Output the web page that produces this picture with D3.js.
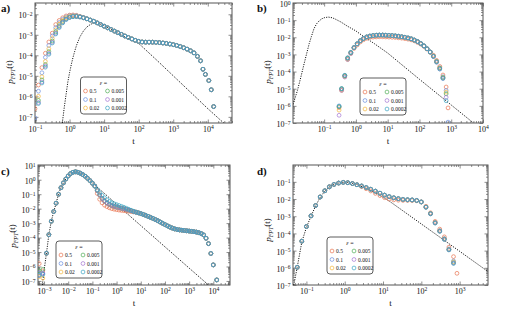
<!DOCTYPE html>
<html lang="en">
<head>
<meta charset="UTF-8">
<title>First passage time distributions</title>
<script src="https://cdn.jsdelivr.net/npm/d3@7"></script>
<style>
  body { margin: 0; background: #fff; }
  svg text { font-family: "Liberation Serif", "DejaVu Serif", serif; fill: #111; }
</style>
</head>
<body>
<div id="chart"></div>
<script>
// legend entries, one per epsilon value
const epsLabels = ["0.5", "0.1", "0.02", "0.005", "0.001", "0.0002"];
const epsColors = ["#e8734f", "#6b8fdf", "#f2b63c", "#4fae56", "#a374d2", "#3aa3c2"];

// all values below are log10(t) and log10(p)

// ---- panel a ----
const aT = [-1.0, -0.9, -0.8, -0.7, -0.6, -0.5, -0.4, -0.3, -0.2, -0.1, 0.0, 0.1, 0.2, 0.3, 0.4,
  0.5, 0.6, 0.7, 0.8, 0.9, 1.0, 1.1, 1.2, 1.3, 1.4, 1.5, 1.6, 1.7, 1.8, 1.9, 2.0, 2.1, 2.2, 2.3, 2.4,
  2.5, 2.6, 2.7, 2.8, 2.9, 3.0, 3.1, 3.2, 3.3, 3.4, 3.5, 3.6, 3.7, 3.79, 3.86, 3.93, 4.03, 4.10, 4.17];
const aRise05 = [-6.6, -5.45, -4.6, -3.9, -3.35, -2.92, -2.5, -2.3, -2.17, -2.08, -2.04, -2.03, -2.05, -2.1, -2.16];
const aRise01 = [-7.05, -5.75, -4.85, -4.1, -3.52, -3.05, -2.65, -2.4, -2.24, -2.13, -2.07, -2.06, -2.07, -2.11, -2.16];
const aRise002 = [null, -6.0, -5.05, -4.3, -3.68, -3.18, -2.76, -2.48, -2.3, -2.17, -2.1, -2.08, -2.09, -2.12, -2.17];
const aRise0005 = [null, -6.2, -5.2, -4.45, -3.82, -3.3, -2.86, -2.56, -2.36, -2.22, -2.14, -2.1, -2.1, -2.13, -2.17];
const aRise0001 = [null, -6.3, -5.3, -4.52, -3.9, -3.36, -2.92, -2.61, -2.4, -2.24, -2.15, -2.11, -2.11, -2.13, -2.17];
const aRise00002 = [null, -6.35, -5.35, -4.58, -3.95, -3.4, -2.96, -2.65, -2.42, -2.26, -2.16, -2.12, -2.11, -2.13, -2.17];
const aTail = [-2.22, -2.28, -2.34, -2.42, -2.5, -2.58, -2.66, -2.74, -2.82, -2.9, -2.98, -3.06, -3.13, -3.2,
  -3.27, -3.32, -3.35, -3.36, -3.36, -3.36, -3.37, -3.38, -3.4, -3.42, -3.45, -3.48, -3.52, -3.57, -3.63,
  -3.7, -3.78, -3.88, -4.05, -4.27, -4.68, -4.93, -5.23, -5.68, -6.5];
const aCurveT = [-0.21, -0.15, -0.1, -0.05, 0.0, 0.05, 0.1, 0.15, 0.2, 0.3, 0.4, 0.5, 0.6, 0.7, 0.8, 1.0,
  1.2, 1.4, 1.6, 1.8, 2.0, 2.5, 3.0, 3.5, 4.0, 4.46];
const aCurveP = [-7.3, -6.5, -5.9, -5.3, -4.85, -4.45, -4.1, -3.8, -3.52, -3.1, -2.82, -2.62, -2.5, -2.42,
  -2.42, -2.56, -2.74, -2.92, -3.1, -3.28, -3.42, -4.2, -5.0, -5.8, -6.6, -7.3];

// ---- panel b ----
const bT = [-0.53, -0.45, -0.35, -0.26, -0.16, -0.06, 0.04, 0.14, 0.24, 0.34, 0.44, 0.54, 0.64, 0.74,
  0.84, 0.94, 1.04, 1.14, 1.24, 1.34, 1.44, 1.54, 1.64, 1.74, 1.84, 1.94, 2.04, 2.14, 2.24, 2.34,
  2.44, 2.54, 2.64, 2.74, 2.84, 2.9];
const bHead05 = [-6.1, -5.05, -4.25, -3.25, -2.9];
const bHead01 = [-6.0, -5.0, -4.22, -3.2, -2.88];
const bHead002 = [-6.25, -5.1, -4.3, -3.3, -2.95];
const bHead0005 = [-6.05, -5.0, -4.25, -3.22, -2.9];
const bHead0001 = [-6.55, -5.1, -4.32, -3.3, -2.95];
const bHead00002 = [-6.03, -5.0, -4.22, -3.2, -2.88];
const bMid = [-2.6, -2.38, -2.2, -2.07, -1.98, -1.93, -1.9, -1.88, -1.87, -1.87, -1.88, -1.89, -1.9,
  -1.92, -1.94, -1.97, -2.0, -2.04, -2.09, -2.16, -2.25, -2.36, -2.5, -2.67, -2.86];
const bMid05 = [-2.65, -2.45, -2.27, -2.14, -2.06, -2.01, -1.99, -1.98, -1.97, -1.97, -1.98, -1.99, -2.0,
  -2.01, -2.03, -2.05, -2.08, -2.11, -2.15, -2.21, -2.3, -2.4, -2.53, -2.69, -2.87];
const bTail05 = [-3.05, -3.35, -3.7, -4.2, -4.9, -6.12];
const bTail01 = [-3.1, -3.4, -3.78, -4.3, -5.1, -6.95];
const bTail002 = [-3.1, -3.42, -3.8, -4.35, -5.2, null];
const bTail0005 = [-3.1, -3.42, -3.8, -4.35, -5.3, null];
const bTail0001 = [-3.12, -3.45, -3.85, -4.4, -5.5, null];
const bTail00002 = [-3.12, -3.45, -3.85, -4.4, -5.7, null];
const bCurveT = [-2.05, -1.95, -1.84, -1.73, -1.63, -1.55, -1.47, -1.4, -1.32, -1.24, -1.16, -1.08, -1.0,
  -0.87, -0.75, -0.68, -0.47, -0.26, 0.0, 0.26, 0.58, 1.0, 2.0, 3.0, 3.7];
const bCurveP = [-6.46, -5.75, -5.1, -4.3, -3.54, -2.95, -2.37, -1.95, -1.5, -1.22, -1.05, -0.93, -0.86,
  -0.82, -0.86, -0.91, -1.11, -1.36, -1.63, -1.98, -2.37, -2.92, -4.45, -5.95, -7.0];

// ---- panel c ----
const cT = [-3.2, -3.05, -2.9, -2.8, -2.7, -2.6, -2.5, -2.4, -2.3, -2.2, -2.1, -2.0, -1.9, -1.8, -1.7,
  -1.6, -1.5, -1.4, -1.3, -1.2, -1.1, -1.0, -0.9, -0.8, -0.7, -0.6, -0.5, -0.4, -0.3, -0.2, -0.1, 0.0,
  0.1, 0.2, 0.3, 0.4, 0.5, 0.6, 0.7, 0.8, 0.9, 1.0, 1.1, 1.2, 1.3, 1.4, 1.5, 1.6, 1.7, 1.8, 1.9, 2.0,
  2.1, 2.2, 2.3, 2.4, 2.5, 2.6, 2.7, 2.8, 2.9, 3.0, 3.1, 3.2, 3.3, 3.4, 3.5, 3.6, 3.7, 3.8, 3.9, 4.0, 4.14];
const cStart05 = [-5.8, -6.3];
const cStart01 = [-6.45, -6.5];
const cStart002 = [-6.7, -6.8];
const cStart0005 = [-6.3, -6.2];
const cStart0001 = [-6.6, -6.45];
const cStart00002 = [-6.6, -6.55];
const cRise = [-5.08, -3.8, -2.87, -2.2, -1.62, -1.0, -0.55, -0.22, 0.05, 0.26, 0.43, 0.52, 0.55, 0.52,
  0.45, 0.36, 0.24, 0.1, -0.06, -0.24, -0.44];
const cMid05 = [-0.95, -1.35, -1.6, -1.76, -1.86, -1.94, -2.0, -2.04, -2.07, -2.1, -2.12, -2.14, -2.16,
  -2.18, -2.2, -2.23];
const cMid = [-0.75, -1.05, -1.3, -1.47, -1.6, -1.7, -1.78, -1.84, -1.89, -1.93, -1.97, -2.01, -2.05,
  -2.1, -2.15, -2.2];
const cMid00002 = [-0.68, -0.9, -1.08, -1.25, -1.38, -1.5, -1.59, -1.66, -1.72, -1.78, -1.84, -1.9, -1.97,
  -2.04, -2.11, -2.18];
const cTail = [-2.24, -2.29, -2.34, -2.4, -2.46, -2.53, -2.6, -2.67, -2.75, -2.83, -2.92, -3.01, -3.1,
  -3.19, -3.27, -3.34, -3.4, -3.44, -3.47, -3.49, -3.51, -3.53, -3.55, -3.57, -3.59, -3.62, -3.66, -3.72,
  -3.82, -4.05, -4.42, -5.1, -5.89, -6.93];
const cCurveT = [-3.07, -3.0, -2.9, -2.8, -2.7, -2.6, -2.5, -2.4, -2.3, -2.2, -2.1, -2.0, -1.9, -1.8,
  -1.7, -1.6, -1.5, -1.4, -1.3, -1.2, -1.1, -1.0, -0.9, -0.5, 0.0, 1.0, 2.0, 3.0, 3.8];
const cCurveP = [-7.28, -6.3, -5.08, -3.8, -2.87, -2.2, -1.62, -1.0, -0.55, -0.22, 0.05, 0.26, 0.43, 0.52,
  0.55, 0.52, 0.45, 0.36, 0.24, 0.1, -0.06, -0.22, -0.38, -0.95, -1.7, -3.17, -4.64, -6.11, -7.28];

// ---- panel d ----
const dT = [-1.24, -1.12, -1.0, -0.88, -0.76, -0.64, -0.52, -0.4, -0.28, -0.16, -0.04, 0.08, 0.2, 0.32,
  0.44, 0.56, 0.68, 0.8, 0.92, 1.04, 1.16, 1.28, 1.4, 1.52,
  1.64, 1.76, 1.88, 2.0, 2.12, 2.24, 2.36, 2.48, 2.6, 2.72, 2.84, 2.93];
const dHead = [-5.97, -4.45, -3.6, -2.98, -2.38, -1.88, -1.52, -1.29, -1.15, -1.07, -1.03, -1.05, -1.1, -1.17];
const dMid = [-1.24, -1.33, -1.43, -1.54, -1.66, -1.77, -1.86, -1.93, -1.98, -2.02];
const dMid05 = [-1.28, -1.4, -1.53, -1.67, -1.8, -1.92, -2.0, -2.05, -2.07, -2.08];
const dTail05 = [-2.08, -2.09, -2.1, -2.17, -2.42, -2.8, -3.3, -3.75, -4.2, -4.8, -5.35, -6.32];
const dTail01 = [-2.05, -2.06, -2.09, -2.17, -2.46, -2.84, -3.36, -3.84, -4.3, -4.9, -5.6, null];
const dTail002 = [-2.05, -2.06, -2.09, -2.17, -2.47, -2.85, -3.38, -3.86, -4.32, -4.93, -5.65, null];
const dTail0005 = [-2.04, -2.05, -2.08, -2.17, -2.47, -2.85, -3.38, -3.86, -4.33, -4.94, -5.7, null];
const dTail0001 = [-2.04, -2.05, -2.08, -2.17, -2.48, -2.86, -3.39, -3.87, -4.34, -4.95, -5.72, null];
const dTail00002 = [-2.04, -2.05, -2.08, -2.17, -2.48, -2.86, -3.4, -3.88, -4.35, -4.96, -5.75, null];
const dCurveT = [-1.33, -1.24, -1.12, -1.0, -0.88, -0.76, -0.64, -0.52, -0.4, -0.28, -0.16, -0.04, 0.08,
  0.2, 0.32, 0.5, 0.74, 1.0, 1.17, 2.0, 3.0, 3.74];
const dCurveP = [-7.0, -5.97, -4.5, -3.65, -3.0, -2.4, -1.9, -1.54, -1.3, -1.15, -1.07, -1.03, -1.04,
  -1.09, -1.16, -1.32, -1.58, -1.9, -2.13, -3.45, -5.04, -6.22];

// series per panel, same order as epsLabels
const aSeries = [aRise05, aRise01, aRise002, aRise0005, aRise0001, aRise00002].map(h => h.concat(aTail));
const bSeries = [
  bHead05.concat(bMid05, bTail05), bHead01.concat(bMid, bTail01), bHead002.concat(bMid, bTail002),
  bHead0005.concat(bMid, bTail0005), bHead0001.concat(bMid, bTail0001), bHead00002.concat(bMid, bTail00002)];
const cSeries = [
  cStart05.concat(cRise, cMid05, cTail), cStart01.concat(cRise, cMid, cTail), cStart002.concat(cRise, cMid, cTail),
  cStart0005.concat(cRise, cMid, cTail), cStart0001.concat(cRise, cMid, cTail), cStart00002.concat(cRise, cMid00002, cTail)];
const dSeries = [
  dHead.concat(dMid05, dTail05), dHead.concat(dMid, dTail01), dHead.concat(dMid, dTail002),
  dHead.concat(dMid, dTail0005), dHead.concat(dMid, dTail0001), dHead.concat(dMid, dTail00002)];

// layout of the four panels (pixel boxes and log10 axis ranges)
const panels = [
  { tag: "a)", tagX: 1, tagY: 12, box: [35, 3, 232, 123], xd: [-1.0, 4.7], yd: [-7.3, -1.45],
    xt: [-1, 0, 1, 2, 3, 4], yt: [-7, -6, -5, -4, -3, -2], leg: [80.5, 77], ylab: 72,
    t: aT, series: aSeries, curveT: aCurveT, curveP: aCurveP },
  { tag: "b)", tagX: 257, tagY: 12, box: [293, 3, 483, 123], xd: [-1.98, 4.0], yd: [-7.0, 0.0],
    xt: [-1, 0, 1, 2, 3, 4], yt: [-7, -6, -5, -4, -3, -2, -1, 0], leg: [360, 78], ylab: 72,
    t: bT, series: bSeries, curveT: bCurveT, curveP: bCurveP },
  { tag: "c)", tagX: 1, tagY: 175, box: [38, 165, 230, 285], xd: [-3.25, 4.69], yd: [-7.28, 1.02],
    xt: [-3, -2, -1, 0, 1, 2, 3, 4], yt: [-7, -6, -5, -4, -3, -2, -1, 0, 1], leg: [56, 241], ylab: 236,
    t: cT, series: cSeries, curveT: cCurveT, curveP: cCurveP },
  { tag: "d)", tagX: 257, tagY: 175, box: [293, 165, 488, 285], xd: [-1.35, 3.74], yd: [-7.0, -0.02],
    xt: [-1, 0, 1, 2, 3], yt: [-7, -6, -5, -4, -3, -2, -1], leg: [327, 237], ylab: 230,
    t: dT, series: dSeries, curveT: dCurveT, curveP: dCurveP }
];

const pow10 = v => Math.pow(10, v);
const svg = d3.select("#chart").append("svg").attr("width", 512).attr("height", 309);

function minorTicks(domain) {
  const out = [];
  for (let k = Math.floor(domain[0]) - 1; k <= Math.ceil(domain[1]); k++) {
    for (let m = 2; m <= 9; m++) {
      const v = m * pow10(k);
      if (v > pow10(domain[0]) && v < pow10(domain[1])) out.push(v);
    }
  }
  return out;
}

// "10" with a superscript exponent
function powerLabel(sel) {
  sel.each(function(d) {
    const e = Math.round(Math.log10(d));
    const txt = d3.select(this).text(null);
    txt.append("tspan").text("10");
    txt.append("tspan").attr("dy", "-0.45em").attr("font-size", "5.6px")
      .text(String(e).replace("-", "\u2212"));
  });
}

panels.forEach((p, pi) => {
  const [x0, y0, x1, y1] = p.box;
  const x = d3.scaleLog().domain(p.xd.map(pow10)).range([x0, x1]);
  const y = d3.scaleLog().domain(p.yd.map(pow10)).range([y1, y0]);
  const g = svg.append("g");

  g.append("clipPath").attr("id", "clip" + pi).append("rect")
    .attr("x", x0).attr("y", y0).attr("width", x1 - x0).attr("height", y1 - y0);

  const xMinor = minorTicks(p.xd), yMinor = minorTicks(p.yd);
  const xMajor = p.xt.map(pow10), yMajor = p.yt.map(pow10);

  // minor ticks, all four sides, pointing inward
  g.append("g").attr("transform", `translate(0,${y1})`)
    .call(d3.axisBottom(x).tickValues(xMinor).tickSize(-2).tickFormat(""));
  g.append("g").attr("transform", `translate(0,${y0})`)
    .call(d3.axisTop(x).tickValues(xMinor).tickSize(-2).tickFormat(""));
  g.append("g").attr("transform", `translate(${x0},0)`)
    .call(d3.axisLeft(y).tickValues(yMinor).tickSize(-2).tickFormat(""));
  g.append("g").attr("transform", `translate(${x1},0)`)
    .call(d3.axisRight(y).tickValues(yMinor).tickSize(-2).tickFormat(""));

  // major ticks with labels on bottom and left
  g.append("g").attr("class", "xaxis").attr("transform", `translate(0,${y1})`)
    .call(d3.axisBottom(x).tickValues(xMajor).tickSize(-3.5).tickPadding(3));
  g.append("g").attr("transform", `translate(0,${y0})`)
    .call(d3.axisTop(x).tickValues(xMajor).tickSize(-3.5).tickFormat(""));
  g.append("g").attr("class", "yaxis").attr("transform", `translate(${x0},0)`)
    .call(d3.axisLeft(y).tickValues(yMajor).tickSize(-3.5).tickPadding(2.5));
  g.append("g").attr("transform", `translate(${x1},0)`)
    .call(d3.axisRight(y).tickValues(yMajor).tickSize(-3.5).tickFormat(""));

  g.selectAll(".domain").remove();
  g.selectAll(".tick line").attr("stroke", "#444").attr("stroke-width", 0.6);
  g.selectAll(".xaxis text, .yaxis text").attr("font-size", "8px").attr("fill", "#111")
    .call(powerLabel);
  g.selectAll(".yaxis text").attr("dy", "0.45em");

  // frame
  g.append("rect").attr("x", x0).attr("y", y0).attr("width", x1 - x0).attr("height", y1 - y0)
    .attr("fill", "none").attr("stroke", "#555").attr("stroke-width", 1);

  const plot = g.append("g").attr("clip-path", `url(#clip${pi})`);

  // dotted reference curve
  const curve = p.curveT.map((t, i) => [pow10(t), pow10(p.curveP[i])]);
  plot.append("path").datum(curve)
    .attr("fill", "none").attr("stroke", "#111").attr("stroke-width", 1)
    .attr("stroke-dasharray", "1.1,1.3")
    .attr("d", d3.line().x(d => x(d[0])).y(d => y(d[1])));

  // simulation markers, cyan (smallest epsilon) drawn last
  p.series.forEach((vals, si) => {
    const pts = p.t.map((t, i) => [t, vals[i]]).filter(d => d[1] != null);
    plot.append("g").selectAll("circle").data(pts).join("circle")
      .attr("cx", d => x(pow10(d[0]))).attr("cy", d => y(pow10(d[1]))).attr("r", 1.9)
      .attr("fill", "none").attr("stroke", epsColors[si]).attr("stroke-width", 0.7);
  });

  // legend
  const leg = g.append("g").attr("transform", `translate(${p.leg[0]},${p.leg[1]})`);
  leg.append("rect").attr("width", 46).attr("height", 37).attr("rx", 3)
    .attr("fill", "#fff").attr("stroke", "#333").attr("stroke-width", 0.8);
  const title = leg.append("text").attr("x", 23).attr("y", 7.5).attr("text-anchor", "middle")
    .attr("font-size", "6px");
  title.append("tspan").attr("font-style", "italic").text("\u03b5");
  title.append("tspan").text(" =");
  epsLabels.forEach((lab, i) => {
    const col = Math.floor(i / 3), row = i % 3;
    const cx = 5 + col * 22, cy = 14 + row * 8.5;
    leg.append("circle").attr("cx", cx).attr("cy", cy).attr("r", 1.9)
      .attr("fill", "none").attr("stroke", epsColors[i]).attr("stroke-width", 0.7);
    leg.append("text").attr("x", cx + 4).attr("y", cy + 2).attr("font-size", "5.5px").text(lab);
  });

  // axis titles and panel tag
  g.append("text").attr("x", (x0 + x1) / 2).attr("y", y1 + 21).attr("text-anchor", "middle")
    .attr("font-size", "9px").text("t");
  const yl = g.append("text")
    .attr("transform", `translate(${x0 - 22},${p.ylab}) rotate(-90)`)
    .attr("text-anchor", "middle").attr("font-size", "9px");
  yl.append("tspan").attr("font-style", "italic").text("p");
  yl.append("tspan").attr("font-size", "6px").attr("font-style", "italic").attr("dy", "0.3em").text("FPT");
  yl.append("tspan").attr("dy", "-0.3em").text("(t)");
  g.append("text").attr("x", p.tagX).attr("y", p.tagY).attr("font-size", "11px")
    .attr("font-weight", "bold").text(p.tag);
});
</script>
</body>
</html>
